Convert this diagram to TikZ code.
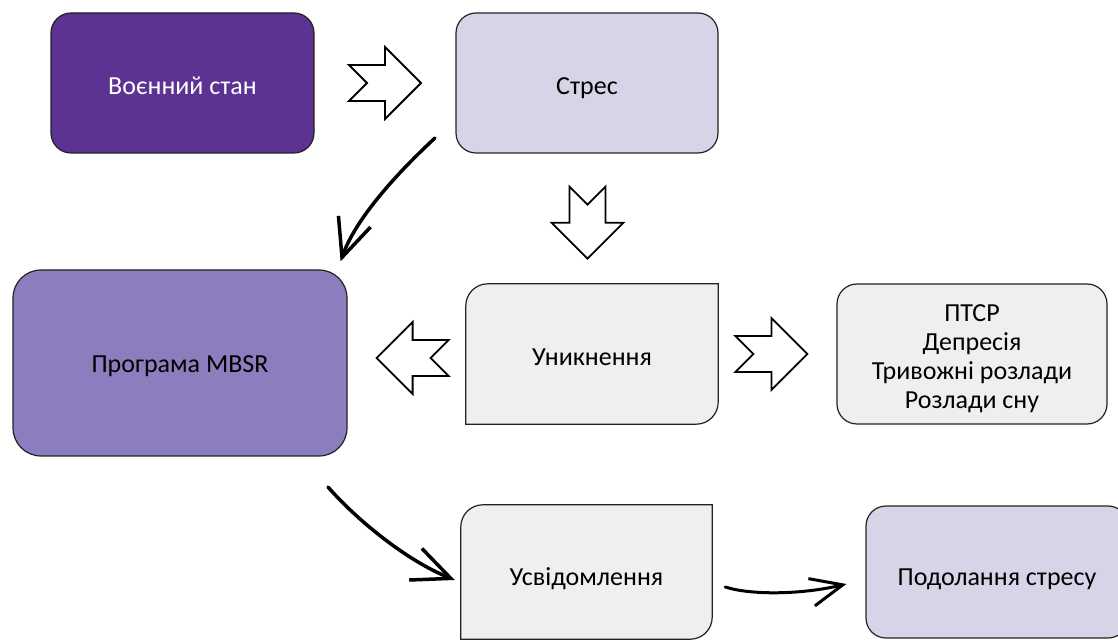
\documentclass[tikz,border=0pt]{standalone}
\usepackage{fontspec}
\setmainfont{Carlito}
\usetikzlibrary{arrows.meta,calc,backgrounds}
\definecolor{warpurple}{HTML}{5C3292}
\definecolor{lav}{HTML}{D9D3E8}
\definecolor{midpurple}{HTML}{8B7DBE}
\definecolor{lightgrey}{HTML}{EFEFEF}
\definecolor{edge}{HTML}{222222}
\tikzset{
  boxtext/.style={inner sep=0pt, align=center, font=\fontsize{26}{29}\selectfont},
  box/.style={boxtext, draw=edge, line width=1.2pt, rounded corners=20pt},
  boxline/.style={draw=edge, line width=1.2pt},
  lbl/.style={boxtext, yshift=-3.5pt},
  curvy/.style={line width=3.5pt, line cap=round, -{Straight Barb[length=38pt,width=34pt]}},
  blockarrow/.pic={\draw[fill=white, line width=1.8pt, line join=miter]
     (-36,18) -- (-18,0) -- (-36,-18) -- (0,-18) -- (0,-36) -- (36,0) -- (0,36) -- (0,18) -- cycle;}
}
\begin{document}
\begin{tikzpicture}[x=1pt,y=1pt]
\useasboundingbox (0,0) rectangle (1118,640);
\begin{scope}
\clip (0,0) rectangle (1118,640);
% boxes
\node[box, fill=warpurple, minimum width=263pt, minimum height=140pt,
      label={[boxtext, yshift=-2.5pt, text=white]center:Воєнний стан}] (war) at (182.5,557) {};
\node[box, fill=lav, minimum width=262pt, minimum height=140pt,
      label={[boxtext, yshift=-5pt]center:Стрес}] (stress) at (587,557) {};
\node[box, fill=midpurple, rounded corners=28pt, minimum width=334pt, minimum height=186pt,
      label={[lbl]center:Програма MBSR}] (mbsr) at (180,277) {};
\node[boxtext, minimum width=252pt, minimum height=140pt,
      label={[lbl]center:Уникнення}] (avoid) at (592,286) {};
\node[box, fill=lightgrey, minimum width=270pt, minimum height=140pt,
      label={[boxtext, yshift=-5pt]center:ПТСР\\Депресія\\Тривожні розлади\\Розлади сну}] (ptsd) at (972,286) {};
\node[boxtext, minimum width=251pt, minimum height=134pt,
      label={[boxtext, yshift=-7pt]center:Усвідомлення}] (aware) at (586.5,68) {};
\node[box, fill=lav, minimum width=262pt, minimum height=132pt,
      label={[boxtext, yshift=-7pt]center:Подолання стресу}] (overcome) at (997,68) {};
\end{scope}
\begin{scope}[on background layer]
\draw[boxline, fill=lightgrey] (avoid.south west) -- ([yshift=-22pt]avoid.north west)
  arc[start angle=180, end angle=90, radius=22pt] -- (avoid.north east)
  -- ([yshift=22pt]avoid.south east) arc[start angle=0, end angle=-90, radius=22pt] -- cycle;
\draw[boxline, fill=lightgrey] (aware.south west) -- ([yshift=-22pt]aware.north west)
  arc[start angle=180, end angle=90, radius=22pt] -- (aware.north east)
  -- ([yshift=22pt]aware.south east) arc[start angle=0, end angle=-90, radius=22pt] -- cycle;
\end{scope}
% block arrows
\pic at ($(war.east)!0.5!(stress.west)$) {blockarrow};
\pic at ($(avoid.east)!0.45!(ptsd.west)$) {blockarrow};
\pic[rotate=180] at ($(mbsr.east)!0.55!(avoid.west)$) {blockarrow};
\pic[rotate=-90] at ($(stress.south)!0.5!(avoid.north)+(-2,-4)$) {blockarrow};
% curved arrows
\coordinate (c1) at (435,502);
\draw[curvy] (c1) .. controls (395,465) and (355,420) .. ([shift={(-7,8)}]mbsr.north east);
\coordinate (c2) at (328,153);
\draw[curvy] (c2) .. controls (355,122) and (405,80) .. ([shift={(-6,-8)}]aware.west);
\draw[curvy, line width=3pt, -{Straight Barb[length=32pt,width=28pt]}] ([shift={(13,-15)}]aware.east)
  .. controls (750,45) and (800,45) .. ([shift={(-19,-12)}]overcome.west);
\end{tikzpicture}
\end{document}
